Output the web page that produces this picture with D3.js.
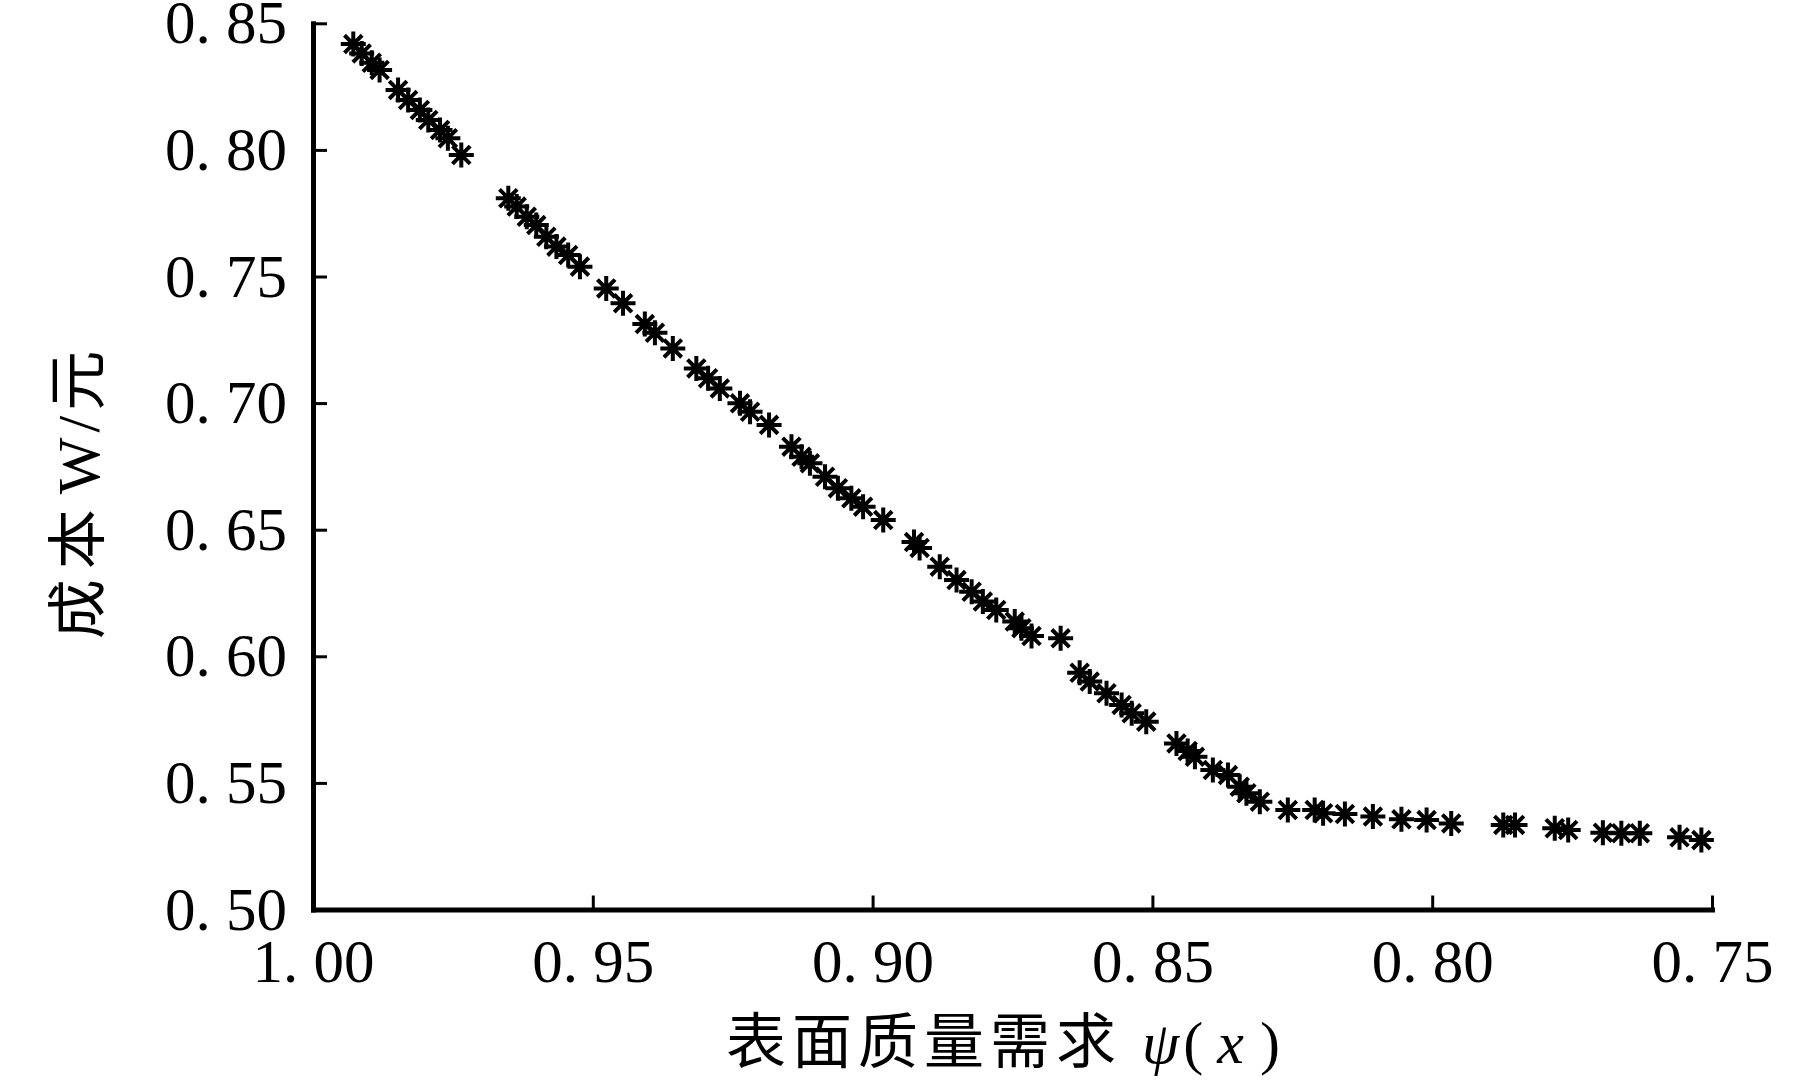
<!DOCTYPE html>
<html>
<head>
<meta charset="utf-8">
<script src="https://cdn.jsdelivr.net/npm/d3@7"></script>
<style>
  body { margin: 0; background: #fff; }
  svg { display: block; }
</style>
</head>
<body>
<div id="chart"></div>
<script>
// surface quality demand psi(x)
const psi = [
  0.9928, 0.9913, 0.9895, 0.9881,
  0.9848, 0.9830, 0.9809, 0.9794, 0.9773, 0.9759, 0.9735,
  0.9651, 0.9636, 0.9618, 0.9601, 0.9583, 0.9565, 0.9544, 0.9523,
  0.9476, 0.9446, 0.9407, 0.9389, 0.9357, 0.9315, 0.9294, 0.9273,
  0.9237, 0.9219, 0.9185, 0.9145, 0.9127, 0.9112, 0.9085, 0.9062,
  0.9038, 0.9017, 0.8981, 0.8926, 0.8916, 0.8880, 0.8850, 0.8823, 0.8803,
  0.8779, 0.8746, 0.8734, 0.8716, 0.8664, 0.8630, 0.8612, 0.8582,
  0.8555, 0.8537, 0.8511, 0.8457, 0.8437, 0.8424, 0.8392, 0.8365,
  0.8344, 0.8332, 0.8308, 0.8258, 0.8210, 0.8195, 0.8156, 0.8106,
  0.8055, 0.8010, 0.7966, 0.7873, 0.7852, 0.7781, 0.7757, 0.7695,
  0.7662, 0.7629, 0.7558, 0.7519
];
// cost W (yuan)
const cost = [
  0.8418, 0.8381, 0.8344, 0.8316,
  0.8237, 0.8197, 0.8158, 0.8118, 0.8079, 0.8046, 0.7980,
  0.7809, 0.7776, 0.7736, 0.7703, 0.7657, 0.7618, 0.7585, 0.7539,
  0.7453, 0.7394, 0.7312, 0.7278, 0.7216, 0.7137, 0.7098, 0.7058,
  0.6999, 0.6966, 0.6914, 0.6828, 0.6788, 0.6762, 0.6709, 0.6664,
  0.6624, 0.6591, 0.6538, 0.6451, 0.6428, 0.6354, 0.6301, 0.6255, 0.6216,
  0.6183, 0.6137, 0.6111, 0.6080, 0.6071, 0.5935, 0.5900, 0.5854,
  0.5808, 0.5775, 0.5742, 0.5656, 0.5626, 0.5603, 0.5551, 0.5531,
  0.5485, 0.5459, 0.5426, 0.5393, 0.5393, 0.5380, 0.5377, 0.5367,
  0.5356, 0.5353, 0.5340, 0.5334, 0.5334, 0.5321, 0.5314, 0.5303,
  0.5301, 0.5301, 0.5285, 0.5274
];
const xTicks = [1.00, 0.95, 0.90, 0.85, 0.80, 0.75];
const yTicks = [0.50, 0.55, 0.60, 0.65, 0.70, 0.75, 0.80, 0.85];

const W = 1819, H = 1081;
const plotLeft = 313, plotRight = 1712, plotTop = 23.3, plotBottom = 909.5;

const svg = d3.select("#chart").append("svg")
  .attr("width", W)
  .attr("height", H);

const x = d3.scaleLinear().domain([1.00, 0.75]).range([plotLeft, plotRight]);
const y = d3.scaleLinear().domain([0.50, 0.85]).range([plotBottom, plotTop]);

const fmt = d => d3.format(".2f")(d).replace(".", ". ");

const xAxis = svg.append("g")
  .attr("transform", `translate(0,${plotBottom})`)
  .call(d3.axisBottom(x).tickValues(xTicks).tickFormat(fmt)
    .tickSize(-14).tickSizeOuter(0).tickPadding(29));

const yAxis = svg.append("g")
  .attr("transform", `translate(${plotLeft},0)`)
  .call(d3.axisLeft(y).tickValues(yTicks).tickFormat(fmt)
    .tickSize(-14).tickSizeOuter(0).tickPadding(26));

[xAxis, yAxis].forEach(g => {
  g.select(".domain").attr("stroke", "#000").attr("stroke-width", 5)
    .attr("stroke-linecap", "square");
  g.selectAll(".tick line").attr("stroke", "#000").attr("stroke-width", 3);
  g.selectAll(".tick text")
    .attr("fill", "#000")
    .style("font-family", "'Liberation Serif', 'DejaVu Serif', serif")
    .style("font-size", "61px");
});

// 8-arm asterisk marker
const r = 12.5, d = r * Math.SQRT1_2;
const star = `M${-r},0H${r}M0,${-r}V${r}M${-d},${-d}L${d},${d}M${-d},${d}L${d},${-d}`;

svg.append("g")
  .selectAll("path")
  .data(psi.map((p, i) => [p, cost[i]]))
  .enter().append("path")
  .attr("d", star)
  .attr("transform", p => `translate(${x(p[0])},${y(p[1])})`)
  .attr("stroke", "#000")
  .attr("stroke-width", 4)
  .attr("fill", "none");

// axis titles
const cjk = "'Noto Sans CJK SC', sans-serif";
const serif = "'Liberation Serif', 'DejaVu Serif', serif";

const xt = svg.append("text")
  .attr("x", 726)
  .attr("y", 1063)
  .style("font-size", "60px")
  .attr("fill", "#000");
xt.append("tspan").style("font-family", cjk).style("letter-spacing", "6px").text("表面质量需求");
xt.append("tspan").attr("dx", 20).style("font-family", serif).style("font-style", "italic").text("ψ");
xt.append("tspan").attr("dx", 4).style("font-family", serif).text("(");
xt.append("tspan").attr("dx", 14).style("font-family", serif).style("font-style", "italic").text("x");
xt.append("tspan").attr("dx", 16).style("font-family", serif).text(")");

const yt = svg.append("text")
  .attr("transform", "translate(99,495) rotate(-90)")
  .attr("text-anchor", "middle")
  .style("font-size", "60px")
  .attr("fill", "#000");
yt.append("tspan").style("font-family", cjk).style("letter-spacing", "10px").text("成本");
yt.append("tspan").attr("dx", 5).style("font-family", serif).style("letter-spacing", "5px").text("W/");
yt.append("tspan").style("font-family", cjk).text("元");
</script>
</body>
</html>
